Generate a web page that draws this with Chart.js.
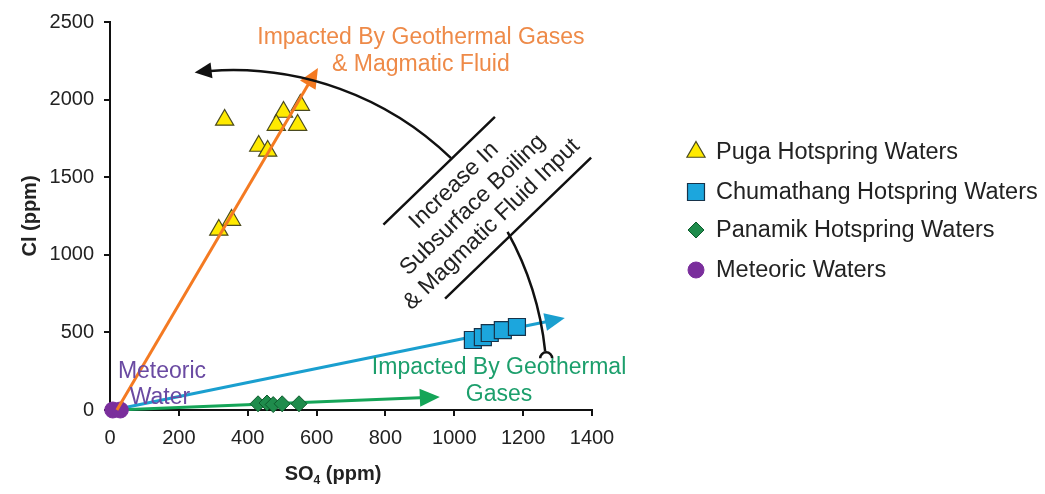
<!DOCTYPE html>
<html lang="en">
<head>
  <meta charset="UTF-8">
  <title>Cl vs SO4</title>
  <script src="https://cdn.jsdelivr.net/npm/chart.js"></script>
  <style>
    body { margin: 0; background: #fff; }
    #wrap { width: 1045px; height: 494px; }
  </style>
</head>
<body>
  <div id="wrap"><canvas id="chart" width="1045" height="494"></canvas></div>

  <script>
    // data (SO4 ppm, Cl ppm)
    const pugaSO4 = [333, 504, 553, 483, 545, 432, 458, 353, 316];
    const pugaCl  = [1869, 1920, 1965, 1836, 1836, 1701, 1669, 1224, 1160];

    const chumSO4 = [1054, 1083, 1103, 1141, 1182];
    const chumCl  = [451, 470, 496, 515, 535];

    const panaSO4 = [430, 456, 474, 500, 549];
    const panaCl  = [40, 45, 35, 40, 40];

    const metSO4 = [8, 30];
    const metCl  = [0, 0];

    const xTicks = [0, 200, 400, 600, 800, 1000, 1200, 1400];
    const yTicks = [0, 500, 1000, 1500, 2000, 2500];

    const seriesNames = ['Puga Hotspring Waters', 'Chumathang Hotspring Waters',
                         'Panamik Hotspring Waters', 'Meteoric Waters'];

    // trend arrows, in data units: [x0, y0, x1, y1]
    const orangeArrow = [20, 0, 604, 2204];
    const blueArrow   = [30, 10, 1321, 593];
    const greenArrow  = [20, 0, 958, 84];

    // curved arrow: circle centre (data) + radius in x units, angles in degrees
    const arcCentre = [357, 167];
    const arcRadiusX = 912;
    const arcAngles = [-6, -29, -46, -97];

    const FONT = "'Liberation Sans', Arial, sans-serif";

    const zip = (xs, ys) => xs.map((v, i) => ({ x: v, y: ys[i] }));

    const datasets = [
      { label: seriesNames[0], data: zip(pugaSO4, pugaCl), pointStyle: 'triangle',
        pointRadius: 10.5, backgroundColor: '#ffea00', borderColor: '#4a4a20', borderWidth: 1.2 },
      { label: seriesNames[1], data: zip(chumSO4, chumCl), pointStyle: 'rect',
        pointRadius: 12, backgroundColor: '#1ca6dd', borderColor: '#17334a', borderWidth: 1.2 },
      { label: seriesNames[2], data: zip(panaSO4, panaCl), pointStyle: 'rectRot',
        pointRadius: 8, backgroundColor: '#1f8c4c', borderColor: '#0d5a2c', borderWidth: 1 },
      { label: seriesNames[3], data: zip(metSO4, metCl), pointStyle: 'circle',
        pointRadius: 8, backgroundColor: '#7a2e9c', borderColor: '#7a2e9c', borderWidth: 1 }
    ].map(ds => Object.assign(ds, { clip: false }));

    function arrowHead(ctx, x0, y0, x1, y1, len, half, color) {
      const a = Math.atan2(y1 - y0, x1 - x0);
      ctx.save();
      ctx.fillStyle = color;
      ctx.beginPath();
      ctx.moveTo(x1, y1);
      ctx.lineTo(x1 - len * Math.cos(a) + half * Math.sin(a), y1 - len * Math.sin(a) - half * Math.cos(a));
      ctx.lineTo(x1 - len * Math.cos(a) - half * Math.sin(a), y1 - len * Math.sin(a) + half * Math.cos(a));
      ctx.closePath();
      ctx.fill();
      ctx.restore();
    }

    function drawArrow(chart, seg, color) {
      const { ctx, scales: { x, y } } = chart;
      const x0 = x.getPixelForValue(seg[0]), y0 = y.getPixelForValue(seg[1]);
      const x1 = x.getPixelForValue(seg[2]), y1 = y.getPixelForValue(seg[3]);
      const a = Math.atan2(y1 - y0, x1 - x0);
      ctx.save();
      ctx.strokeStyle = color;
      ctx.lineWidth = 3;
      ctx.beginPath();
      ctx.moveTo(x0, y0);
      ctx.lineTo(x1 - 14 * Math.cos(a), y1 - 14 * Math.sin(a));
      ctx.stroke();
      ctx.restore();
      arrowHead(ctx, x0, y0, x1, y1, 20, 9, color);
    }

    const overlay = {
      id: 'overlay',
      beforeDatasetsDraw(chart) {
        drawArrow(chart, blueArrow, '#1a9fcf');
        drawArrow(chart, greenArrow, '#15a558');
      },
      afterDatasetsDraw(chart) {
        const { ctx, scales: { x, y } } = chart;
        drawArrow(chart, orangeArrow, '#f47a22');

        // curved black arrow
        const cx = x.getPixelForValue(arcCentre[0]);
        const cy = y.getPixelForValue(arcCentre[1]);
        const r = x.getPixelForValue(arcCentre[0] + arcRadiusX) - cx;
        const rad = d => d * Math.PI / 180;
        ctx.save();
        ctx.strokeStyle = '#111';
        ctx.lineWidth = 2.5;
        ctx.beginPath();
        ctx.arc(cx, cy, r, rad(arcAngles[0]), rad(arcAngles[1]), true);
        ctx.stroke();
        ctx.beginPath();
        ctx.arc(cx, cy, r, rad(arcAngles[2]), rad(arcAngles[3]) + 0.05, true);
        ctx.stroke();
        // hook at the tail
        const hx = cx + r * Math.cos(rad(arcAngles[0]));
        const hy = cy + r * Math.sin(rad(arcAngles[0]));
        ctx.beginPath();
        ctx.arc(hx + 1, hy + 7, 6, Math.PI, 0);
        ctx.stroke();
        ctx.restore();
        const ex = cx + r * Math.cos(rad(arcAngles[3]));
        const ey = cy + r * Math.sin(rad(arcAngles[3]));
        const tx = Math.sin(rad(arcAngles[3])), ty = -Math.cos(rad(arcAngles[3]));
        arrowHead(ctx, ex - tx * 10, ey - ty * 10, ex, ey, 17, 8, '#111');

        // rotated box with two bars
        const bx = x.getPixelForValue(1054), by = y.getPixelForValue(1321);
        ctx.save();
        ctx.translate(bx, by);
        ctx.rotate(rad(-44));
        ctx.fillStyle = '#222';
        ctx.font = '23px ' + FONT;
        ctx.textAlign = 'center';
        ctx.textBaseline = 'middle';
        ctx.fillText('Increase In', 0, -27);
        ctx.fillText('Subsurface Boiling', 0, 0);
        ctx.fillText('& Magmatic Fluid Input', 0, 27);
        ctx.strokeStyle = '#111';
        ctx.lineWidth = 2.5;
        ctx.beginPath();
        ctx.moveTo(-78, -48); ctx.lineTo(77, -48);
        ctx.moveTo(-85, 48); ctx.lineTo(118, 48);
        ctx.stroke();
        ctx.restore();

        // annotation text
        ctx.save();
        ctx.font = '23px ' + FONT;
        ctx.textAlign = 'center';
        ctx.textBaseline = 'middle';
        ctx.fillStyle = '#ee8a48';
        ctx.fillText('Impacted By Geothermal Gases', x.getPixelForValue(903), y.getPixelForValue(2397));
        ctx.fillText('& Magmatic Fluid', x.getPixelForValue(903), y.getPixelForValue(2223));
        ctx.fillStyle = '#1c9f6c';
        ctx.fillText('Impacted By Geothermal', x.getPixelForValue(1130), y.getPixelForValue(271));
        ctx.fillText('Gases', x.getPixelForValue(1130), y.getPixelForValue(97));
        ctx.fillStyle = '#6a4aa2';
        ctx.fillText('Meteoric', x.getPixelForValue(151), y.getPixelForValue(245));
        ctx.fillText('Water', x.getPixelForValue(145), y.getPixelForValue(77));
        ctx.restore();

        // axis titles
        ctx.save();
        ctx.fillStyle = '#222';
        ctx.font = 'bold 20px ' + FONT;
        ctx.textAlign = 'center';
        ctx.textBaseline = 'middle';
        ctx.translate(30, (chart.chartArea.top + chart.chartArea.bottom) / 2);
        ctx.rotate(-Math.PI / 2);
        ctx.fillText('Cl (ppm)', 0, 0);
        ctx.restore();

        ctx.save();
        ctx.fillStyle = '#222';
        ctx.textBaseline = 'alphabetic';
        ctx.font = 'bold 20px ' + FONT;
        const w1 = ctx.measureText('SO').width;
        ctx.font = 'bold 12px ' + FONT;
        const w2 = ctx.measureText('4').width;
        ctx.font = 'bold 20px ' + FONT;
        const w3 = ctx.measureText(' (ppm)').width;
        let sx = 333 - (w1 + w2 + w3) / 2;
        const base = 480;
        ctx.fillText('SO', sx, base); sx += w1;
        ctx.font = 'bold 12px ' + FONT;
        ctx.fillText('4', sx, base + 4); sx += w2;
        ctx.font = 'bold 20px ' + FONT;
        ctx.fillText(' (ppm)', sx, base);
        ctx.restore();

        // legend
        ctx.save();
        ctx.font = '23.5px ' + FONT;
        ctx.textBaseline = 'middle';
        ctx.fillStyle = '#222';
        const rows = [152, 192, 230, 270];
        chart.data.datasets.forEach((ds, i) => {
          ctx.save();
          ctx.fillStyle = ds.backgroundColor;
          ctx.strokeStyle = ds.borderColor;
          ctx.lineWidth = ds.borderWidth;
          Chart.helpers.drawPoint(ctx, { pointStyle: ds.pointStyle, radius: ds.pointRadius, borderWidth: ds.borderWidth },
                                  696, rows[i]);
          ctx.restore();
          ctx.fillText(ds.label, 716, rows[i] + 1);
        });
        ctx.restore();
      }
    };

    new Chart(document.getElementById('chart').getContext('2d'), {
      type: 'scatter',
      data: { datasets },
      options: {
        responsive: false,
        animation: false,
        layout: { padding: { top: 22, right: 453, bottom: 0, left: 0 } },
        plugins: { legend: { display: false }, tooltip: { enabled: false } },
        scales: {
          x: {
            min: 0, max: 1400,
            afterBuildTicks: s => { s.ticks = xTicks.map(v => ({ value: v })); },
            afterFit: s => { s.height = 84; },
            ticks: { font: { family: FONT, size: 20 }, color: '#222', padding: 10,
                     callback: v => String(v) },
            grid: { drawOnChartArea: false, tickLength: 6, color: '#111', lineWidth: 2 },
            border: { color: '#111', width: 2 }
          },
          y: {
            min: 0, max: 2500,
            afterBuildTicks: s => { s.ticks = yTicks.map(v => ({ value: v })); },
            afterFit: s => { s.width = 110; },
            ticks: { font: { family: FONT, size: 20 }, color: '#222', padding: 10,
                     callback: v => String(v) },
            grid: { drawOnChartArea: false, tickLength: 6, color: '#111', lineWidth: 2 },
            border: { color: '#111', width: 2 }
          }
        }
      },
      plugins: [overlay]
    });
  </script>
</body>
</html>
